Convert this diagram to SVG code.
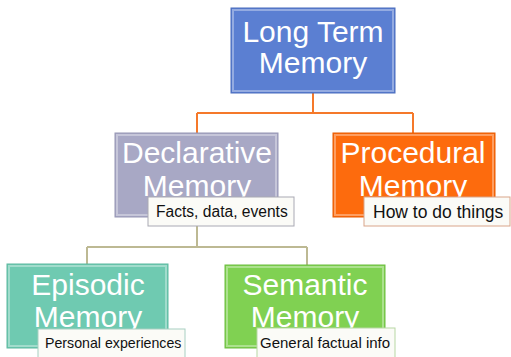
<svg xmlns="http://www.w3.org/2000/svg" width="511" height="357" viewBox="0 0 511 357">
<style>
.lbl{font-family:"Liberation Sans",Arial,sans-serif;font-size:30px;fill:#ffffff;text-anchor:middle}
.note{font-family:"Liberation Sans",Arial,sans-serif;fill:#111111}
.bevel{fill:none;stroke:#ffffff;stroke-opacity:0.35;stroke-width:2}
.callout{fill:#fbfbf7;stroke-width:1}
.c1{fill:none;stroke:#f5792a;stroke-width:2}
.c2{fill:none;stroke:#bdb993;stroke-width:2}
</style>
<rect width="511" height="357" fill="#ffffff"/>
<g id="connectors">
<path class="c1" d="M313 93 V113 M197 113 H413 M197 113 V133 M413 113 V133"/>
<path class="c2" d="M197 226 V247 M87 247 H307 M87 247 V264 M307 247 V265"/>
</g>
<g id="node-long-term">
<rect x="231" y="8" width="164" height="85" fill="#5b7fd2" stroke="#4a6cbc" stroke-width="1"/>
<rect class="bevel" x="233" y="10" width="160" height="81"/>
<text class="lbl" x="313" y="42">Long Term</text>
<text class="lbl" x="313" y="73">Memory</text>
</g>
<g id="node-declarative">
<rect x="115" y="133" width="163" height="84" fill="#a8a8c5" stroke="#9696b4" stroke-width="1"/>
<rect class="bevel" x="117" y="135" width="159" height="80"/>
<text class="lbl" x="197" y="163">Declarative</text>
<text class="lbl" x="197" y="196">Memory</text>
<rect class="callout" x="148" y="197" width="146" height="29" stroke="#a9a9b4"/>
<text class="note" x="156" y="217" font-size="15.6">Facts, data, events</text>
</g>
<g id="node-procedural">
<rect x="333" y="133" width="162" height="84" fill="#fd6b0d" stroke="#e65c05" stroke-width="1"/>
<rect class="bevel" x="335" y="135" width="158" height="80"/>
<text class="lbl" x="413" y="163">Procedural</text>
<text class="lbl" x="413" y="196">Memory</text>
<rect class="callout" x="364" y="197" width="146" height="29" stroke="#d9a58a"/>
<text class="note" x="373" y="218" font-size="17.5">How to do things</text>
</g>
<g id="node-episodic">
<rect x="7" y="264" width="161" height="84" fill="#6fcab1" stroke="#5cb89f" stroke-width="1"/>
<rect class="bevel" x="9" y="266" width="157" height="80"/>
<text class="lbl" x="88" y="295">Episodic</text>
<text class="lbl" x="88" y="327">Memory</text>
<rect class="callout" x="38" y="329" width="147" height="30" stroke="#a8cfc2"/>
<text class="note" x="45" y="348" font-size="14.2">Personal experiences</text>
</g>
<g id="node-semantic">
<rect x="225" y="265" width="160" height="83" fill="#80d152" stroke="#6cbd40" stroke-width="1"/>
<rect class="bevel" x="227" y="267" width="156" height="79"/>
<text class="lbl" x="305" y="295">Semantic</text>
<text class="lbl" x="305" y="327">Memory</text>
<rect class="callout" x="257" y="328" width="138" height="31" stroke="#b7d7a3"/>
<text class="note" x="260" y="348" font-size="15">General factual info</text>
</g>
</svg>
